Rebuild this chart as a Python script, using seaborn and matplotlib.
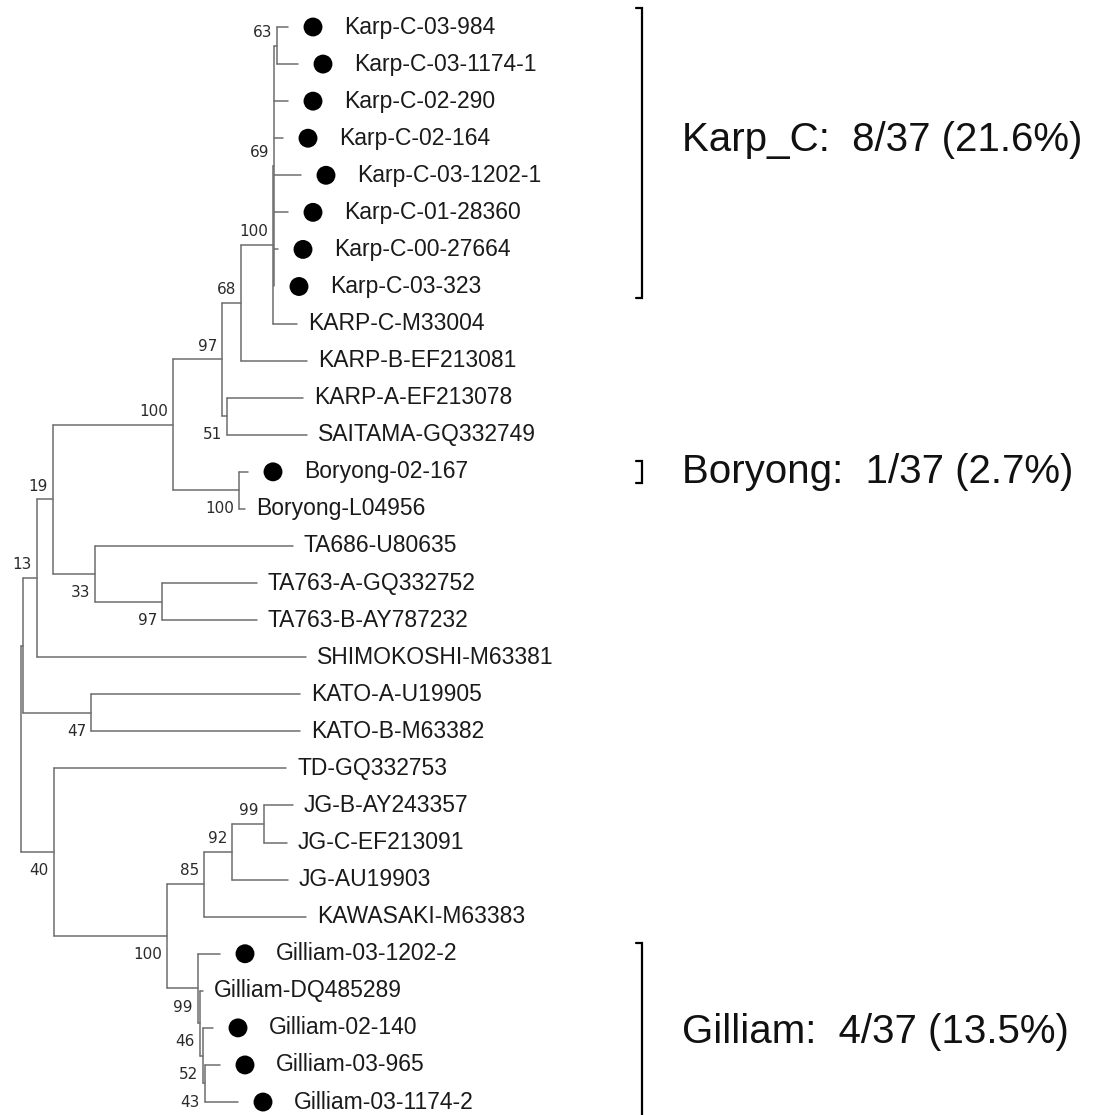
import numpy as np
import pandas as pd
import seaborn as sns
import matplotlib.pyplot as plt

# Leaves, top to bottom, with tip distance from the root (tree units)
leaf_names = [
    'Karp-C-03-984', 'Karp-C-03-1174-1', 'Karp-C-02-290', 'Karp-C-02-164',
    'Karp-C-03-1202-1', 'Karp-C-01-28360', 'Karp-C-00-27664', 'Karp-C-03-323',
    'KARP-C-M33004', 'KARP-B-EF213081', 'KARP-A-EF213078', 'SAITAMA-GQ332749',
    'Boryong-02-167', 'Boryong-L04956', 'TA686-U80635', 'TA763-A-GQ332752',
    'TA763-B-AY787232', 'SHIMOKOSHI-M63381', 'KATO-A-U19905', 'KATO-B-M63382',
    'TD-GQ332753', 'JG-B-AY243357', 'JG-C-EF213091', 'JG-AU19903',
    'KAWASAKI-M63383', 'Gilliam-03-1202-2', 'Gilliam-DQ485289', 'Gilliam-02-140',
    'Gilliam-03-965', 'Gilliam-03-1174-2',
]
leaf_dist = [267, 277, 267, 262, 280, 267, 257, 253, 276, 286, 282, 286, 227, 224,
             272, 236, 236, 285, 279, 279, 265, 272, 266, 267, 285, 199, 182, 192,
             199, 217]
# isolates from this study get a dot
leaf_marked = [1, 1, 1, 1, 1, 1, 1, 1, 0, 0, 0, 0, 1, 0, 0, 0, 0, 0, 0, 0,
               0, 0, 0, 0, 0, 1, 0, 1, 1, 1]

# Internal nodes: id, distance from root, bootstrap, children (leaf index or node id)
node_ids = ['root', 'n13', 'n19', 'na', 'n100a', 'n97', 'n68', 'n100b', 'nkc', 'n63',
            'n51', 'nbor', 'nta', 'nta763', 'nkato', 'n40', 'n100c', 'n85', 'n92',
            'n99', 'ng', 'ng2', 'ng3', 'ng4']
node_dist = [0, 2, 16, 32, 152, 201, 220, 252, 253, 256,
             206, 218, 74, 141, 70, 33, 146, 183, 211,
             243, 177, 179, 182, 184]
node_support = [None, None, 13, 19, 100, 97, 68, 100, 69, 63,
                51, 100, 33, 97, 47, 40, 100, 85, 92,
                99, 99, 46, 52, 43]
node_children = [
    ['n13', 'n40'], ['n19', 'nkato'], ['na', 17], ['n100a', 'nta'], ['n97', 'nbor'],
    ['n68', 'n51'], ['n100b', 9], ['nkc', 8], ['n63', 2, 3, 4, 5, 6, 7], [0, 1],
    [10, 11], [12, 13], [14, 'nta763'], [15, 16], [18, 19], [20, 'n100c'],
    ['n85', 'ng'], ['n92', 24], ['n99', 23], [21, 22], [25, 'ng2'], [26, 'ng3'],
    [27, 'ng4'], [28, 29],
]

# Clade summaries on the right
group_text = ['Karp_C:  8/37 (21.6%)', 'Boryong:  1/37 (2.7%)', 'Gilliam:  4/37 (13.5%)']
group_first = [0, 12, 25]
group_last = [7, 12, 29]

# ---- layout ----
sns.set_theme(style='white')
plt.rcParams['font.family'] = ['Liberation Sans', 'DejaVu Sans']

fig = plt.figure(figsize=(10.98, 11.15), dpi=100)
ax = fig.add_axes([0, 0, 1, 1])

nodes = {nid: (d, s, ch) for nid, d, s, ch in zip(node_ids, node_dist, node_support, node_children)}


def pos(key):
    if isinstance(key, int):
        return leaf_dist[key], float(key)
    d, s, ch = nodes[key]
    ys = [pos(c)[1] for c in ch]
    return d, (ys[0] + ys[-1]) / 2


rows = []
seg = 0
labels = []
for nid in node_ids:
    d, s, ch = nodes[nid]
    ys = [pos(c)[1] for c in ch]
    rows += [(seg, d, ys[0]), (seg, d, ys[-1])]
    seg += 1
    for i, c in enumerate(ch):
        cx, cy = pos(c)
        rows += [(seg, d, cy), (seg, cx, cy)]
        seg += 1
        if not isinstance(c, int) and nodes[c][1] is not None:
            # bootstrap above first child, below last child
            labels.append((cx, cy, nodes[c][1], 'up' if i == 0 else 'down'))

seg_df = pd.DataFrame(rows, columns=['seg', 'x', 'y'])
sns.lineplot(data=seg_df, x='x', y='y', units='seg', estimator=None, sort=False,
             color='#6e6e6e', linewidth=1.1, ax=ax, legend=False)

for x, y, s, where in labels:
    dy = -0.36 if where == 'up' else 0.5
    ax.text(x - 5, y + dy, str(s), ha='right', va='center', fontsize=11,
            family='DejaVu Sans', color='#2a2a2a')

dots = pd.DataFrame({'x': [d + 25 for d, m in zip(leaf_dist, leaf_marked) if m],
                     'y': [i for i, m in enumerate(leaf_marked) if m]})
sns.scatterplot(data=dots, x='x', y='y', s=185, color='black', edgecolor='none',
                ax=ax, legend=False)

for i, (name, d, m) in enumerate(zip(leaf_names, leaf_dist, leaf_marked)):
    ax.text(d + (56 if m else 11), i, name, ha='left', va='center', fontsize=16.5,
            color='#1a1a1a')

# brackets and clade text (last bracket runs off the bottom edge)
bx = 621
label_shift = [-0.45, 0, 0.1]
pad_top = [0.5, 0.3, 0.3]
pad_bot = [0.3, 0.3, 0.8]
for txt, a, b, sh, pt, pb in zip(group_text, group_first, group_last, label_shift,
                                 pad_top, pad_bot):
    top, bot = a - pt, b + pb
    ax.plot([bx - 6, bx, bx, bx - 6], [top, top, bot, bot], color='black', lw=1.6,
            solid_joinstyle='miter')
    ax.text(bx + 40, (a + b) / 2 + sh, txt, ha='left', va='center', fontsize=29,
            color='#111111')

ax.set_xlim(-21, 1077)
ax.set_ylim(29.35, -0.7284)
ax.axis('off')

fig.savefig('out.png', dpi=100)
